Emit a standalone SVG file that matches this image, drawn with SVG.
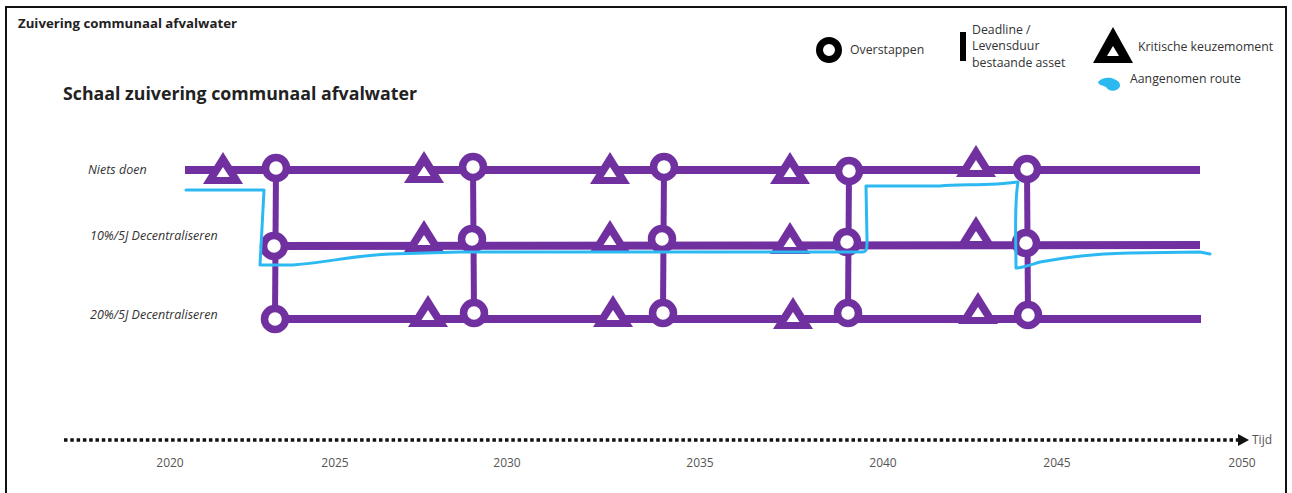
<svg xmlns="http://www.w3.org/2000/svg" xmlns:xlink="http://www.w3.org/1999/xlink" width="1292" height="493" viewBox="0 0 1292 493">
<style>
  .t{font-family:"Open Sans","Liberation Sans",sans-serif;fill:#222}
  .lbl{font-family:"Open Sans","Liberation Sans",sans-serif;font-style:italic;font-size:12.5px;fill:#333}
  .yr{font-family:"Open Sans","Liberation Sans",sans-serif;font-size:12px;fill:#555}
  .leg{font-family:"Open Sans","Liberation Sans",sans-serif;font-size:12.3px;fill:#333}
  .h{stroke:#7030A0;stroke-width:8;fill:none}
  .v{stroke:#7030A0;stroke-width:6;fill:none}
  .c{fill:#fff;stroke:#7030A0;stroke-width:7.5}
  .route{stroke:#2CB9F2;stroke-width:3;fill:none;stroke-linejoin:round;stroke-linecap:round}
</style>
<defs>
  <g id="tri">
    <polygon points="0,-21 -20,11 20,11" fill="#7030A0"/>
    <polygon points="0,-6 -6.5,4 6.5,4" fill="#fff"/>
  </g>
</defs>
<rect x="6" y="7" width="1280" height="500" fill="#fff" stroke="#111" stroke-width="2"/>
<text class="t" x="18" y="28" font-size="12" font-weight="bold" textLength="219" lengthAdjust="spacingAndGlyphs">Zuivering communaal afvalwater</text>
<text class="t" x="63" y="100" font-size="18" font-weight="bold" textLength="354" lengthAdjust="spacingAndGlyphs">Schaal zuivering communaal afvalwater</text>

<g id="legend">
  <g id="legend-overstappen">
    <circle cx="829" cy="50" r="9.5" fill="#fff" stroke="#000" stroke-width="7"/>
    <text class="leg" x="850" y="54">Overstappen</text>
  </g>
  <g id="legend-deadline">
    <rect x="960" y="32" width="6" height="29" fill="#000"/>
    <text class="leg" x="972" y="34">Deadline /</text>
    <text class="leg" x="972" y="50">Levensduur</text>
    <text class="leg" x="972" y="67">bestaande asset</text>
  </g>
  <g id="legend-kritisch">
    <polygon points="1113,27 1093,63 1133,63" fill="#000"/>
    <polygon points="1113,46 1107,56 1119,56" fill="#fff"/>
    <text class="leg" x="1138" y="51">Kritische keuzemoment</text>
  </g>
  <g id="legend-route">
    <path d="M1098,82 C1102,77 1110,77 1114,79 C1120,81 1122,86 1118,89 C1114,92 1108,91 1106,87 C1103,85 1099,86 1098,82 z" fill="#2CB9F2"/>
    <text class="leg" x="1130" y="83">Aangenomen route</text>
  </g>
</g>

<g id="row-labels">
  <text class="lbl" x="88" y="174">Niets doen</text>
  <text class="lbl" x="90" y="240">10%/5J Decentraliseren</text>
  <text class="lbl" x="90" y="319">20%/5J Decentraliseren</text>
</g>

<g id="connectors">
  <line class="h" x1="185" y1="170" x2="1200" y2="170"/>
  <line class="h" x1="270" y1="246" x2="1200" y2="245"/>
  <line class="h" x1="270" y1="319" x2="1201" y2="319"/>
  <line class="v" x1="276" y1="168" x2="275" y2="319"/>
  <line class="v" x1="473" y1="167" x2="474" y2="313"/>
  <line class="v" x1="664" y1="167" x2="663" y2="313"/>
  <line class="v" x1="849" y1="171" x2="848" y2="313"/>
  <line class="v" x1="1027" y1="169" x2="1028" y2="315"/>
</g>

<g id="nodes">
  <g id="col-2023">
    <circle class="c" cx="276" cy="168" r="10.5"/>
    <circle class="c" cx="274" cy="246" r="10.5"/>
    <circle class="c" cx="275" cy="319" r="10.5"/>
  </g>
  <g id="col-2029">
    <circle class="c" cx="473" cy="167" r="10.5"/>
    <circle class="c" cx="472" cy="239" r="10.5"/>
    <circle class="c" cx="474" cy="313" r="10.5"/>
  </g>
  <g id="col-2034">
    <circle class="c" cx="664" cy="167" r="10.5"/>
    <circle class="c" cx="662" cy="239" r="10.5"/>
    <circle class="c" cx="663" cy="313" r="10.5"/>
  </g>
  <g id="col-2039">
    <circle class="c" cx="849" cy="171" r="10.5"/>
    <circle class="c" cx="847" cy="242" r="10.5"/>
    <circle class="c" cx="848" cy="313" r="10.5"/>
  </g>
  <g id="col-2044">
    <circle class="c" cx="1027" cy="169" r="10.5"/>
    <circle class="c" cx="1026" cy="243" r="10.5"/>
    <circle class="c" cx="1028" cy="315" r="10.5"/>
  </g>
  <g id="triangles-row1">
    <use xlink:href="#tri" x="223" y="173"/>
    <use xlink:href="#tri" x="424" y="172"/>
    <use xlink:href="#tri" x="610" y="173"/>
    <use xlink:href="#tri" x="790" y="173"/>
    <use xlink:href="#tri" x="976" y="166"/>
  </g>
  <g id="triangles-row2">
    <use xlink:href="#tri" x="424" y="241"/>
    <use xlink:href="#tri" x="610" y="241"/>
    <use xlink:href="#tri" x="790" y="243"/>
    <use xlink:href="#tri" x="976" y="237"/>
  </g>
  <g id="triangles-row3">
    <use xlink:href="#tri" x="428" y="316"/>
    <use xlink:href="#tri" x="613" y="316"/>
    <use xlink:href="#tri" x="793" y="318"/>
    <use xlink:href="#tri" x="978" y="313"/>
  </g>
</g>

<g id="route">
  <path class="route" d="M186,190 L264,190 L262,228 L260,265 L293,265 C330,262 350,256 390,254 L460,252 L862,252 C867,252 867,249 867,240 L866,186 L940,186 C960,184 990,186 1018,182 C1014,205 1016,240 1016,268 C1022,268 1030,265 1040,262 C1070,257 1090,254 1130,253 L1200,252 L1210,254"/>
</g>

<g id="axis">
  <line x1="64" y1="440" x2="1239" y2="440" stroke="#111" stroke-width="3.5" stroke-dasharray="3.5,2.8"/>
  <path d="M1238,434 L1249,440 L1238,446 z" fill="#111"/>
  <text class="yr" x="1252" y="444" font-size="10">Tijd</text>
  <text class="yr" x="170" y="467" text-anchor="middle">2020</text>
  <text class="yr" x="335" y="467" text-anchor="middle">2025</text>
  <text class="yr" x="507" y="467" text-anchor="middle">2030</text>
  <text class="yr" x="700" y="467" text-anchor="middle">2035</text>
  <text class="yr" x="883" y="467" text-anchor="middle">2040</text>
  <text class="yr" x="1057" y="467" text-anchor="middle">2045</text>
  <text class="yr" x="1242" y="467" text-anchor="middle">2050</text>
</g>
</svg>
